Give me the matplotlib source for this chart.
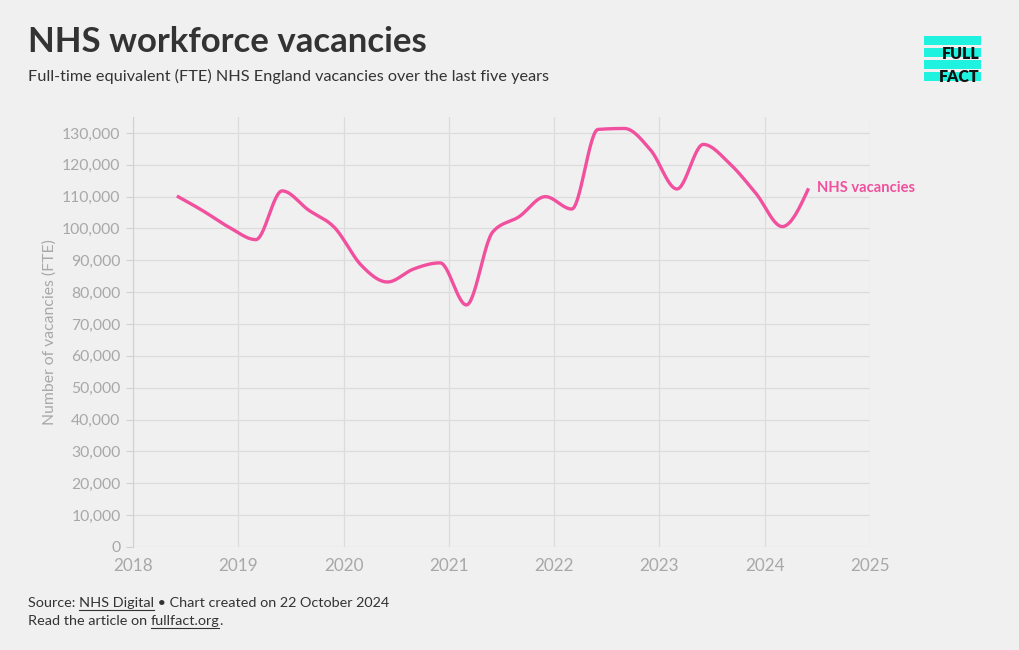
import numpy as np
import matplotlib
matplotlib.use("Agg")
import matplotlib.pyplot as plt
from matplotlib.patches import Rectangle

# quarterly NHS England FTE vacancies
dates = ["2018-06", "2018-09", "2018-12", "2019-03", "2019-06", "2019-09",
         "2019-12", "2020-03", "2020-06", "2020-09", "2020-12", "2021-03",
         "2021-06", "2021-09", "2021-12", "2022-03", "2022-06", "2022-09",
         "2022-12", "2023-03", "2023-06", "2023-09", "2023-12", "2024-03",
         "2024-06"]
vacancies = [110200, 105500, 100300, 96500, 111800, 105800,
             100200, 88500, 83200, 87300, 89200, 76000,
             98900, 103700, 110000, 106100, 131100, 131400,
             124600, 112400, 126400, 120400, 111000, 100600,
             112600]
series_name = "NHS vacancies"
y_ticks = list(range(0, 130001, 10000))
x_ticks = list(range(2018, 2026))

PINK = "#f0509d"
GREY = "#a8a8a8"
BG = "#f0f0f0"


def to_year(d):
    y, m = d.split("-")
    return int(y) + (int(m) - 1) / 12


def monotone_curve(x, y, n=30):
    # same idea as d3.curveMonotoneX
    x = np.asarray(x, float)
    y = np.asarray(y, float)
    h = np.diff(x)
    s = np.diff(y) / h
    t = np.zeros_like(y)
    for i in range(1, len(y) - 1):
        p = (s[i - 1] * h[i] + s[i] * h[i - 1]) / (h[i - 1] + h[i])
        t[i] = (np.sign(s[i - 1]) + np.sign(s[i])) * min(abs(s[i - 1]), abs(s[i]), 0.5 * abs(p))
    t[0] = (3 * s[0] - t[1]) / 2
    t[-1] = (3 * s[-1] - t[-2]) / 2
    xs, ys = [], []
    for i in range(len(h)):
        u = np.linspace(0, 1, n, endpoint=(i == len(h) - 1))
        h00 = 2 * u**3 - 3 * u**2 + 1
        h10 = u**3 - 2 * u**2 + u
        h01 = -2 * u**3 + 3 * u**2
        h11 = u**3 - u**2
        xs.append(x[i] + u * h[i])
        ys.append(h00 * y[i] + h10 * h[i] * t[i] + h01 * y[i + 1] + h11 * h[i] * t[i + 1])
    return np.concatenate(xs), np.concatenate(ys)


plt.rcParams['font.family'] = ['Lato', 'DejaVu Sans']

fig = plt.figure(figsize=(10.2, 6.5), dpi=100, facecolor=BG)
ax = fig.add_axes([133 / 1020, 1 - 547 / 650, 737 / 1020, 430 / 650])
ax.set_facecolor(BG)

xv = [to_year(d) for d in dates]
cx, cy = monotone_curve(xv, vacancies)
ax.plot(cx, cy, color=PINK, lw=2.4, solid_capstyle="butt", zorder=3)
ax.text(xv[-1] + 0.08, vacancies[-1], series_name, color=PINK, fontsize=10.6,
        fontweight="bold", va="center", ha="left")

ax.set_xlim(2018, 2025)
ax.set_ylim(0, 135000)
ax.set_xticks(x_ticks)
ax.set_yticks(y_ticks)
ax.set_yticklabels([f"{v:,}" for v in y_ticks])
ax.grid(True, color="#dcdcdc", lw=0.9)
ax.set_axisbelow(True)
for side in ["top", "right", "bottom"]:
    ax.spines[side].set_visible(False)
ax.spines["left"].set_color("#d0d0d0")
ax.tick_params(axis="y", colors="#d0d0d0", labelcolor=GREY, labelsize=11.3, length=5, pad=4)
ax.tick_params(axis="x", length=0, labelcolor=GREY, labelsize=12.3, pad=8)
ax.set_ylabel("Number of vacancies (FTE)", color=GREY, fontsize=11.3, labelpad=4)

fig.text(28 / 1020, 1 - 42 / 650, "NHS workforce vacancies", fontsize=25,
         fontweight="bold", color="#333333", va="center")
fig.text(28 / 1020, 1 - 76 / 650,
         "Full-time equivalent (FTE) NHS England vacancies over the last five years",
         fontsize=11.7, color="#333333", va="center")

# footer with underlined links
fig.canvas.draw()
renderer = fig.canvas.get_renderer()


def text_run(parts, y_px):
    x = 28
    for txt, underline in parts:
        t = fig.text(x / 1020, 1 - y_px / 650, txt, fontsize=10.4, color="#333333",
                     va="baseline", ha="left")
        bb = t.get_window_extent(renderer)
        if underline:
            yl = 1 - (y_px + 3) / 650
            fig.add_artist(plt.Line2D([bb.x0 / 1020, bb.x1 / 1020], [yl, yl],
                                      color="#333333", lw=0.8))
        x = bb.x1


text_run([("Source: ", False), ("NHS Digital", True),
          (" \u2022 Chart created on 22 October 2024", False)], 607)
text_run([("Read the article on ", False), ("fullfact.org", True), (".", False)], 625)

# Full Fact logo
cyan = "#1ff2df"
for top in [36, 48, 60, 72]:
    fig.add_artist(Rectangle((924 / 1020, 1 - (top + 9) / 650), 57 / 1020, 9 / 650,
                             transform=fig.transFigure, color=cyan, lw=0))
fig.text(980 / 1020, 1 - 54 / 650, "FULL", fontsize=11.5, fontweight="heavy",
         color="#111111", ha="right", va="center")
fig.text(980 / 1020, 1 - 77 / 650, "FACT", fontsize=11.5, fontweight="heavy",
         color="#111111", ha="right", va="center")

fig.savefig("out.png", dpi=100, facecolor=BG)
